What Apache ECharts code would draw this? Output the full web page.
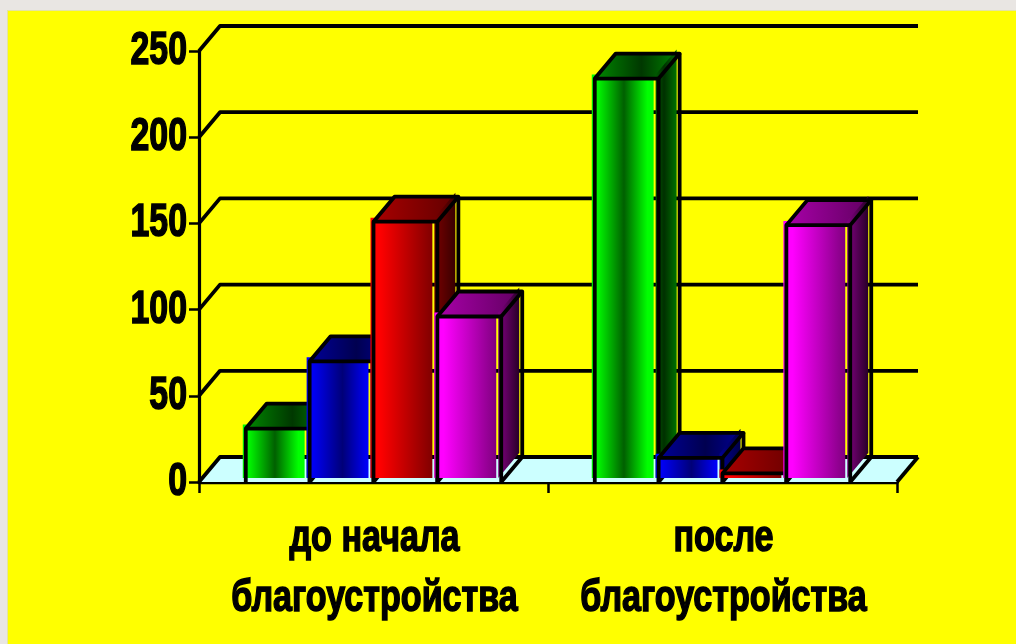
<!DOCTYPE html>
<html><head><meta charset="utf-8">
<style>html,body{margin:0;padding:0;background:#e9e6e3;overflow:hidden}
#frame{position:absolute;left:7px;top:10px;right:0;bottom:0;background:#ffff00;border-left:1px solid #e4e4a0;border-top:1px solid #e4e4a0}
#c{position:absolute;left:0;top:0;width:1016px;height:644px;filter:blur(0.4px)}</style>
<script src="https://cdn.jsdelivr.net/npm/echarts@6/dist/echarts.min.js"></script>
</head><body><div id="frame"></div><div id="c"></div>
<script>
const categories = ['до начала\nблагоустройства', 'после\nблагоустройства'];
const yTicks = [0, 50, 100, 150, 200, 250];
const seriesNames = ['A', 'B', 'C', 'D'];
const greenValues = [31, 234];
const blueValues = [70, 14];
const redValues = [151, 5];
const magentaValues = [96, 149];
const DX = 21, DY = -25, SHIFT_X = -3, SHIFT_Y = -4;
function grad(stops){return {type:'linear',x:0,y:0,x2:1,y2:0,colorStops:stops.map(s=>({offset:s[0],color:s[1]}))};}
const palettes = [
 {front:[[0,'#00ff00'],[.12,'#00f000'],[.52,'#006000'],[.9,'#00ff00'],[1,'#00ff00']],top:[[0,'#008800'],[.55,'#003800'],[1,'#008800']],side:[[0,'#005800'],[.4,'#003000'],[1,'#007000']]},
 {front:[[0,'#0000ff'],[.12,'#0000f0'],[.58,'#000078'],[1,'#0000ff']],top:[[0,'#000098'],[.55,'#000050'],[1,'#000098']],side:[[0,'#000090'],[1,'#000048']]},
 {front:[[0,'#ff0000'],[.15,'#ff0000'],[1,'#800000']],top:[[0,'#a80000'],[1,'#600000']],side:[[0,'#780000'],[1,'#380000']]},
 {front:[[0,'#ff00ff'],[.15,'#ff00ff'],[1,'#800080']],top:[[0,'#a800a8'],[1,'#600060']],side:[[0,'#800080'],[1,'#280028']]}
];
const lineStyle={stroke:'#000',lineWidth:3.8,fill:null,lineJoin:'round'};
function poly(points,style){return {type:'polygon',shape:{points},style};}
function line(points){return {type:'polyline',shape:{points},style:lineStyle};}
function barRenderer(idx){
  return function(params,api){
    const band=api.size([1,0])[0], w=band*0.183;
    const c=api.coord([api.value(0),api.value(1)]), b=api.coord([api.value(0),0]);
    const x=c[0]+(idx-2)*w, t=c[1], y0=b[1], p=palettes[idx];
    const s=(pts)=>pts.map(q=>[q[0]+SHIFT_X,q[1]+SHIFT_Y]);
    const A=[x,t],B=[x+w,t],C=[x+w,y0],D=[x,y0],A2=[x+DX,t+DY],B2=[x+w+DX,t+DY],C2=[x+w+DX,y0+DY];
    const FB=[x+w-2,t],FC=[x+w-2,y0];
    return {type:'group',children:[
      poly(s([A,FB,FC,D]),{fill:grad(p.front)}),
      poly([A,A2,B2,B],{fill:grad(p.top)}),
      poly(s([B,B2,C2,C]),{fill:grad(p.side)}),
      line([D,A,B,C]),
      line([A,A2,B2,B]),
      line([B2,C2,C])
    ]};
  };
}
function wallRenderer(params,api){
  const cs=params.coordSys, y=api.coord([0,api.value(0)])[1], r=cs.x+cs.width;
  return line([[cs.x,y],[cs.x+DX,y+DY],[r+DX,y+DY]]);
}
function floorRenderer(params,api){
  const cs=params.coordSys, y=api.coord([0,0])[1], r=cs.x+cs.width;
  return {type:'group',children:[
    poly([[cs.x,y],[r,y],[r+DX,y+DY],[cs.x+DX,y+DY]],{fill:'#ccffff'}),
    line([[r,y],[r+DX,y+DY]])
  ]};
}
const FONT='bold {S}px "Liberation Sans",sans-serif';
function yLabelRenderer(params,api){
  const v=api.value(0), y=api.coord([0,v])[1], cs=params.coordSys;
  return {type:'text',x:cs.x-12,y:y,scaleX:0.72,style:{text:String(v),font:FONT.replace('{S}',47),fill:'#000',stroke:'#000',lineWidth:1.6,align:'right',verticalAlign:'middle'}};
}
function xLabelRenderer(params,api){
  const k=api.value(0), p=api.coord([k,0]);
  return {type:'text',x:p[0]+1,y:p[1]+87,scaleX:0.775,style:{text:categories[k],font:FONT.replace('{S}',44),lineHeight:60,fill:'#000',stroke:'#000',lineWidth:1.5,align:'center',verticalAlign:'middle'}};
}
const chart=echarts.init(document.getElementById('c'),null,{renderer:'canvas'});
const barData=[greenValues,blueValues,redValues,magentaValues];
chart.setOption({
  backgroundColor:'transparent',
  animation:false,
  grid:{left:199,top:51,width:698,height:431,containLabel:false},
  xAxis:{type:'category',data:categories,position:'bottom',
    axisLine:{show:true,onZero:false,lineStyle:{color:'#000',width:3.4}},
    axisTick:{show:true,alignWithLabel:false,length:11,lineStyle:{color:'#000',width:2.5}},
    axisLabel:{show:false},
    splitLine:{show:false}},
  yAxis:{type:'value',min:0,max:250,interval:50,
    axisLine:{show:true,lineStyle:{color:'#000',width:3.2}},
    axisTick:{show:true,length:10,lineStyle:{color:'#000',width:2.5}},
    axisLabel:{show:false},
    splitLine:{show:false}},
  series:[
    {type:'custom',name:'floor',coordinateSystem:'cartesian2d',data:[[0]],renderItem:floorRenderer,silent:true,z:1},
    {type:'custom',name:'walls',coordinateSystem:'cartesian2d',data:yTicks.map(v=>[v]),renderItem:wallRenderer,silent:true,z:2},
    ...seriesNames.map((n,i)=>({type:'custom',name:n,coordinateSystem:'cartesian2d',
      data:barData[i].map((v,k)=>[k,v]),encode:{x:0,y:1},renderItem:barRenderer(i),z:3+i,clip:false})),
    {type:'custom',name:'yLabels',coordinateSystem:'cartesian2d',data:yTicks.map(v=>[v]),renderItem:yLabelRenderer,silent:true,z:10,clip:false},
    {type:'custom',name:'xLabels',coordinateSystem:'cartesian2d',data:categories.map((c,k)=>[k]),renderItem:xLabelRenderer,silent:true,z:10,clip:false}
  ]
});
</script></body></html>
